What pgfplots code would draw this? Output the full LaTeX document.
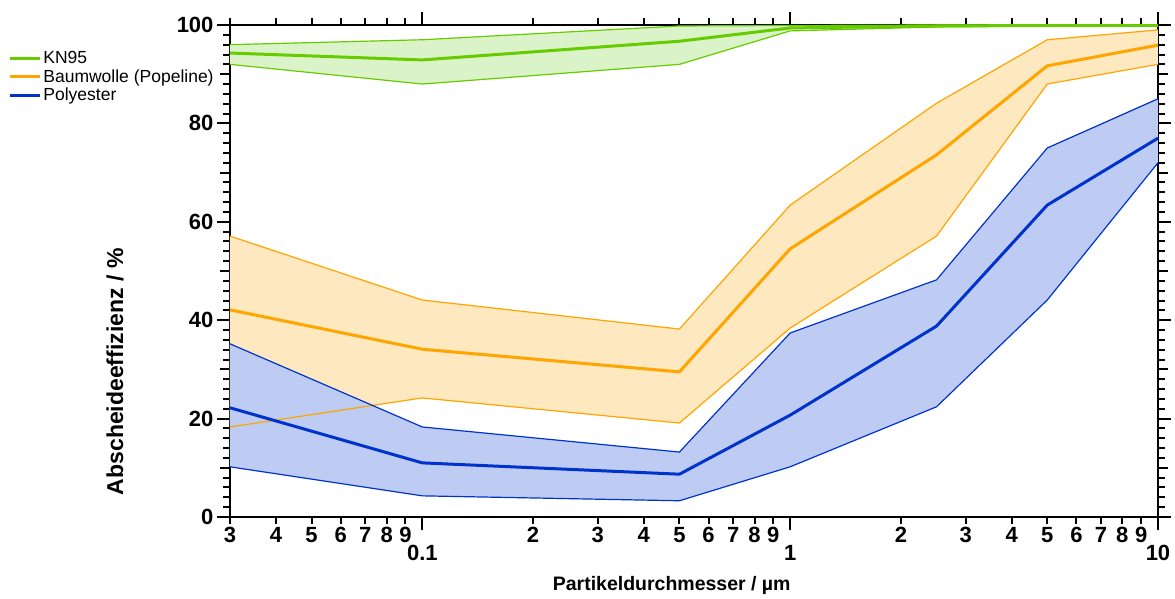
\documentclass[border=0pt]{standalone}
\usepackage{pgfplots}
\pgfplotsset{compat=1.18}
\usepackage{fontspec}
\setmainfont{Liberation Sans}
\definecolor{kline}{HTML}{66CC00}
\definecolor{kfill}{HTML}{DAF3C8}
\definecolor{cline}{HTML}{FFA500}
\definecolor{cfill}{HTML}{FDE8C0}
\definecolor{pline}{HTML}{0033CC}
\definecolor{pfill}{HTML}{BECCF3}
\begin{document}
\begin{tikzpicture}
\begin{axis}[
  at={(0pt,0pt)}, anchor=south west,
  scale only axis, width=928pt, height=492pt,
  xmode=log, xmin=0.03, xmax=10, ymin=0, ymax=100,
  /pgf/number format/assume math mode=true,
  axis line style={line width=1.6pt},
  tick align=outside, tick pos=both,
  xticklabel pos=lower, yticklabel pos=left,
  major tick length=13pt, minor tick length=7pt,
  every tick/.style={black, line width=2pt},
  xtick={0.1,1,10}, xticklabels={0.1,1,10},
  minor xtick={},
  x tick label style={font=\fontsize{22}{24}\selectfont\bfseries, yshift=-12pt},
  extra x ticks={0.03,0.04,0.05,0.06,0.07,0.08,0.09,0.2,0.3,0.4,0.5,0.6,0.7,0.8,0.9,2,3,4,5,6,7,8,9},
  extra x tick labels={3,4,5,6,7,8,9,2,3,4,5,6,7,8,9,2,3,4,5,6,7,8,9},
  extra x tick style={major tick length=7pt, tick label style={font=\fontsize{14}{16}\selectfont\bfseries, yshift=12pt}},
  ytick={0,20,...,100},
  minor ytick={2,4,...,98},
  extra y ticks={10,30,50,70,90}, extra y tick labels={},
  extra y tick style={major tick length=10pt},
  y tick label style={font=\fontsize{22}{24}\selectfont\bfseries},
  xlabel={Partikeldurchmesser / µm},
  ylabel={Abscheideeffizienz / \%},
  xlabel style={at={(axis description cs:0.476,-0.140)}, anchor=center, font=\fontsize{19.5}{22}\selectfont\bfseries},
  ylabel style={at={(axis description cs:-0.124,0.295)}, anchor=center, font=\fontsize{23}{25}\selectfont\bfseries},
  legend style={at={(axis description cs:-0.239,0.951)}, anchor=north west, draw=none, fill=none,
    font=\fontsize{17.5}{19}\selectfont, row sep=0.5pt, inner sep=0pt,
    cells={anchor=west}},
  legend cell align=left,
  legend image code/.code={\draw[#1, line width=3pt] (0pt,0pt) -- (30pt,0pt);},
]
% bands (upper forward, lower backward)
\addplot[fill=kfill, draw=none, forget plot] coordinates {
(0.03,96.0)(0.1,97.0)(0.5,99.8)(1,99.9)(2.5,100)(5,100)(10,100)
(10,99.8)(5,99.8)(2.5,99.6)(1,98.8)(0.5,92.0)(0.1,88.0)(0.03,92.0)} -- cycle;
\addplot[fill=cfill, draw=none, forget plot] coordinates {
(0.03,57.1)(0.1,44.1)(0.5,38.2)(1,63.4)(2.5,84.1)(5,97.0)(10,99.0)
(10,92.0)(5,88.0)(2.5,57.1)(1,38.4)(0.5,19.1)(0.1,24.2)(0.03,18.3)} -- cycle;
\addplot[fill=pfill, draw=none, forget plot] coordinates {
(0.03,35.2)(0.1,18.3)(0.5,13.2)(1,37.4)(2.5,48.2)(5,75.0)(10,85.0)
(10,72.0)(5,44.1)(2.5,22.4)(1,10.2)(0.5,3.3)(0.1,4.3)(0.03,10.2)} -- cycle;
% band edges
\addplot[kline, line width=1.2pt, forget plot] coordinates {(0.03,96.0)(0.1,97.0)(0.5,99.8)(1,99.9)(2.5,100)(5,100)(10,100)};
\addplot[kline, line width=1.2pt, forget plot] coordinates {(0.03,92.0)(0.1,88.0)(0.5,92.0)(1,98.8)(2.5,99.6)(5,99.8)(10,99.8)};
\addplot[cline, line width=1.2pt, forget plot] coordinates {(0.03,57.1)(0.1,44.1)(0.5,38.2)(1,63.4)(2.5,84.1)(5,97.0)(10,99.0)};
\addplot[cline, line width=1.2pt, forget plot] coordinates {(0.03,18.3)(0.1,24.2)(0.5,19.1)(1,38.4)(2.5,57.1)(5,88.0)(10,92.0)};
\addplot[pline, line width=1.2pt, forget plot] coordinates {(0.03,35.2)(0.1,18.3)(0.5,13.2)(1,37.4)(2.5,48.2)(5,75.0)(10,85.0)};
\addplot[pline, line width=1.2pt, forget plot] coordinates {(0.03,10.2)(0.1,4.3)(0.5,3.3)(1,10.2)(2.5,22.4)(5,44.1)(10,72.0)};
% means
\addplot[kline, line width=3pt] coordinates {(0.03,94.3)(0.1,92.9)(0.5,96.7)(1,99.4)(2.5,99.8)(5,99.9)(10,99.9)};
\addlegendentry{KN95}
\addplot[cline, line width=3pt] coordinates {(0.03,42.1)(0.1,34.1)(0.5,29.5)(1,54.5)(2.5,73.6)(5,91.7)(10,95.9)};
\addlegendentry{Baumwolle (Popeline)}
\addplot[pline, line width=3pt] coordinates {(0.03,22.2)(0.1,11.0)(0.5,8.7)(1,20.7)(2.5,38.8)(5,63.4)(10,77.0)};
\addlegendentry{Polyester}
\end{axis}
\useasboundingbox (-230pt,-81pt) rectangle (945pt,517pt);
\end{tikzpicture}
\end{document}
